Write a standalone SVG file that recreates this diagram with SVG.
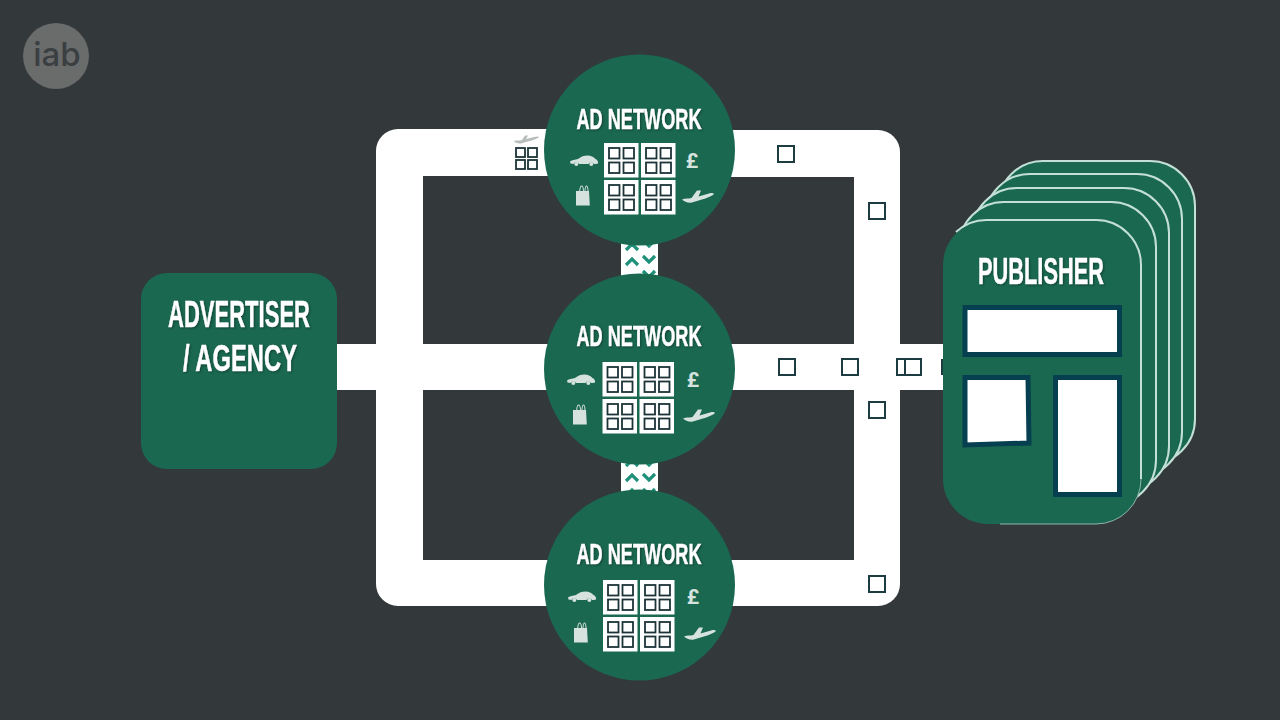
<svg xmlns="http://www.w3.org/2000/svg" xmlns:xlink="http://www.w3.org/1999/xlink" width="1280" height="720" viewBox="0 0 1280 720">
<style>
.g{fill:#1a6850}
.w{fill:#fff}
.t{font-family:"Liberation Sans",Arial,sans-serif;font-weight:700;fill:#fff;stroke:#fff;stroke-width:.5;text-anchor:middle;filter:drop-shadow(1px 1.500px 1px rgba(0,0,0,.35))}
.s{fill:none;stroke:#1c3c42;stroke-width:2}
.s2{fill:none;stroke:#1c3438;stroke-width:1.800}
.i{fill:#d6e2dd}
.c{fill:#1a6850;stroke:#c4e0d6;stroke-width:2}
.p{fill:#fff;stroke:#063f4f;stroke-width:5}
.v{fill:none;stroke:#1f917a;stroke-width:3.200}
.q{font-family:Roboto,"Liberation Sans",sans-serif;font-weight:700;font-size:21px;fill:#d6e2dd;text-anchor:middle}
</style>
<defs>
<rect id="sq" width="16" height="16" class="s"/>
<g id="tile">
<rect width="34.500" height="34.500" class="w"/>
<rect x="5" y="5" width="10.500" height="10.500" class="s2"/><rect x="19.500" y="5" width="10.500" height="10.500" class="s2"/>
<rect x="5" y="19.500" width="10.500" height="10.500" class="s2"/><rect x="19.500" y="19.500" width="10.500" height="10.500" class="s2"/>
</g>
<g id="grid">
<use xlink:href="#tile" href="#tile"/><use xlink:href="#tile" href="#tile" x="37"/>
<use xlink:href="#tile" href="#tile" y="37"/><use xlink:href="#tile" href="#tile" x="37" y="37"/>
</g>
<g id="auto">
<path class="i" d="M0 6.500C2 5 5 4.500 8 4C11 1.500 14 .5 17.500 .5C21 .5 23.500 2 25.500 4C27.500 5 28.500 6.500 28 8.500L26 9H24A3 3 0 0 0 18.500 9H9A3 3 0 0 0 3.500 9L.5 8.500Z"/>
<circle cx="6.300" cy="9" r="2" class="i"/><circle cx="21.300" cy="9" r="2" class="i"/>
</g>
<path id="bag" class="i" fill-rule="evenodd" d="M0 6H3.300C3.300 -1.500 8 -1.500 8 6H8.500C8.500 -1.500 12.500 -1.500 12.500 6H13L13.800 20.500H0ZM4.300 6H7C7 0 4.300 0 4.300 6ZM9.500 6H11.500C11.500 0 9.500 0 9.500 6Z"/>
<path id="plane" class="i" d="M0 9.500C3 8 6 9 9.500 8L15 0.500H19L16.500 6.500L27 3.500C31 2.500 33 3.500 31 5C27 7.500 20 9.500 15 11L9 12.800C5 13 2 11.500 0 9.500Z"/>
</defs>
<rect width="1280" height="720" fill="#33383b"/>
<g id="iab-logo">
<circle cx="56" cy="56" r="33" fill="#6a6b6b"/>
<text x="57" y="66" text-anchor="middle" font-family="Inter,'Open Sans',sans-serif" font-size="33" font-weight="500" fill="#3a3f42">iab</text>
</g>
<g id="connectors">
<path class="w" fill-rule="evenodd" d="M398 129H640V130H878A22 22 0 0 1 900 152V584A22 22 0 0 1 878 606H398A22 22 0 0 1 376 584V151A22 22 0 0 1 398 129ZM423 176V560H854V177H640V176Z"/>
<rect x="337" y="344" width="606" height="46" class="w"/>
<g id="link-top">
<rect x="621" y="236" width="37" height="42" class="w"/>
<path class="v" d="M626 250L632 244L638 250M626 265L632 259L638 265M643 240L649 246L655 240M643 256L649 262L655 256M643 271L649 277L655 271"/>
</g>
<g id="link-bottom">
<rect x="621" y="454" width="37" height="42" class="w"/>
<path class="v" d="M626 481L632 475L638 481M626 496L632 490L638 496M626 466L632 460L638 466M643 459L649 465L655 459M643 474L649 480L655 474M643 489L649 495L655 489"/>
</g>
</g>
<g id="packets">
<use xlink:href="#sq" href="#sq" x="778" y="146"/>
<use xlink:href="#sq" href="#sq" x="869" y="203"/>
<use xlink:href="#sq" href="#sq" x="779" y="359"/>
<use xlink:href="#sq" href="#sq" x="842" y="359"/>
<path class="s" d="M905 359H897V375H905"/>
<use xlink:href="#sq" href="#sq" x="905" y="359"/>
<rect x="941" y="359" width="2" height="16" fill="#1c3c42"/>
<use xlink:href="#sq" href="#sq" x="869" y="402"/>
<use xlink:href="#sq" href="#sq" x="869" y="576"/>
<g id="packet-group">
<path fill="#b7bdbb" d="M514 141C516 140 519 141 522 140L525 135.500H528L526 139L534 137C538 136 540 136.500 538 138C534 140 530 141 526 142L521 143.500C518 144 515 142.500 514 141Z"/>
<rect x="516" y="148" width="9" height="9" class="s2"/><rect x="528" y="148" width="9" height="9" class="s2"/>
<rect x="516" y="160" width="9" height="9" class="s2"/><rect x="528" y="160" width="9" height="9" class="s2"/>
</g>
</g>
<g id="advertiser">
<rect x="141" y="273" width="196" height="196" rx="26" class="g"/>
<text class="t" x="239" y="327" font-size="36" textLength="142" lengthAdjust="spacingAndGlyphs">ADVERTISER</text>
<text class="t" x="240" y="371" font-size="36" textLength="114" lengthAdjust="spacingAndGlyphs">/ AGENCY</text>
</g>
<g id="network-1">
<circle cx="639.500" cy="150" r="95.500" class="g"/>
<text class="t" x="639" y="128.500" font-size="30" textLength="125" lengthAdjust="spacingAndGlyphs">AD NETWORK</text>
<use xlink:href="#grid" href="#grid" x="604" y="143"/>
<use xlink:href="#auto" href="#auto" x="570" y="155"/>
<use xlink:href="#bag" href="#bag" x="576" y="185"/>
<text class="q" x="692" y="168">£</text>
<use xlink:href="#plane" href="#plane" x="682" y="190"/>
</g>
<g id="network-2">
<circle cx="639.500" cy="369" r="95.500" class="g"/>
<text class="t" x="639" y="345.500" font-size="30" textLength="125" lengthAdjust="spacingAndGlyphs">AD NETWORK</text>
<use xlink:href="#grid" href="#grid" x="602.500" y="362"/>
<use xlink:href="#auto" href="#auto" x="567" y="374"/>
<use xlink:href="#bag" href="#bag" x="573" y="404"/>
<text class="q" x="693" y="387">£</text>
<use xlink:href="#plane" href="#plane" x="683" y="409"/>
</g>
<g id="network-3">
<circle cx="639.500" cy="585" r="95.500" class="g"/>
<text class="t" x="639" y="563.500" font-size="30" textLength="125" lengthAdjust="spacingAndGlyphs">AD NETWORK</text>
<use xlink:href="#grid" href="#grid" x="603" y="580"/>
<use xlink:href="#auto" href="#auto" x="568" y="591"/>
<use xlink:href="#bag" href="#bag" x="574" y="622"/>
<text class="q" x="693" y="604">£</text>
<use xlink:href="#plane" href="#plane" x="684" y="627"/>
</g>
<g id="publisher">
<rect x="998" y="161" width="197" height="303" rx="45" class="c"/>
<rect x="985" y="174" width="197" height="303" rx="45" class="c"/>
<rect x="972" y="188" width="197" height="303" rx="45" class="c"/>
<rect x="959" y="202" width="197" height="303" rx="45" class="c"/>
<rect x="943" y="220" width="198" height="304" rx="45" class="g"/>
<path d="M956 232A45 45 0 0 1 988 220H1096A45 45 0 0 1 1141 265V479" fill="none" stroke="#c4e0d6" stroke-width="2"/>
<path d="M1141 479A45 45 0 0 1 1096 524H1000" fill="none" stroke="#8fb5a8" stroke-width="1"/>
<text class="t" x="1041" y="284" font-size="36" textLength="126" lengthAdjust="spacingAndGlyphs">PUBLISHER</text>
<rect x="965" y="307.500" width="154.500" height="47" class="p"/>
<path class="p" d="M965 377.500H1028L1029 443L965 445Z"/>
<rect x="1055.500" y="377.500" width="64" height="117" class="p"/>
</g>
</svg>
